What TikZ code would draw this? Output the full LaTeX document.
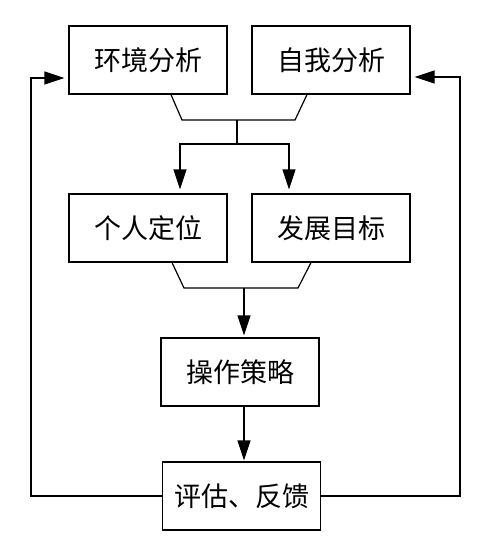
\documentclass[tikz,border=0pt]{standalone}
\usepackage{fontspec}
\newfontfamily\cjk{Noto Sans CJK SC}
\usetikzlibrary{arrows.meta}
\begin{document}
\begin{tikzpicture}[x=1pt,y=-1pt,
  box/.style={draw,line width=1.2pt,minimum width=158pt,minimum height=68pt,inner sep=0pt,font=\cjk\fontsize{27}{30}\selectfont},
  ln/.style={line width=1.2pt},
  arr/.style={line width=1.2pt,-{Triangle[width=13pt,length=20pt]},shorten >=4pt}]
\useasboundingbox (0,0) rectangle (500,544);
\node[box] (b1) at (148,60) {环境分析};
\node[box] (b2) at (331,60) {自我分析};
\node[box] (b3) at (148,228) {个人定位};
\node[box] (b4) at (331,228) {发展目标};
\node[box] (b5) at (240,372) {操作策略};
\node[box] (b6) at (241.5,496) {评估、反馈};
\coordinate (j1) at (237,120);
\coordinate (j2) at (237,144);
\coordinate (j3) at (244,288);
\draw[ln] ([xshift=23pt]b1.south) -- (182,120) -- (295,120) -- ([xshift=-24pt]b2.south);
\draw[ln] (j1) -- (j2);
\draw[arr] (j2) -| ([xshift=32pt]b3.north);
\draw[arr] (j2) -| ([xshift=-42pt]b4.north);
\draw[ln] ([xshift=24pt]b3.south) -- (184,288) -- (298,288) -- ([xshift=-20pt]b4.south);
\draw[arr,shorten >=2pt] (j3) -- ([xshift=4pt]b5.north);
\draw[arr,shorten >=1pt] ([xshift=4pt]b5.south) -- ([xshift=2.5pt]b6.north);
\draw[arr] (b6.west) -| (31,78) -- ([yshift=-18pt]b1.west);
\draw[arr] (b6.east) -| (460,77) -- ([yshift=-17pt]b2.east);
\end{tikzpicture}
\end{document}
